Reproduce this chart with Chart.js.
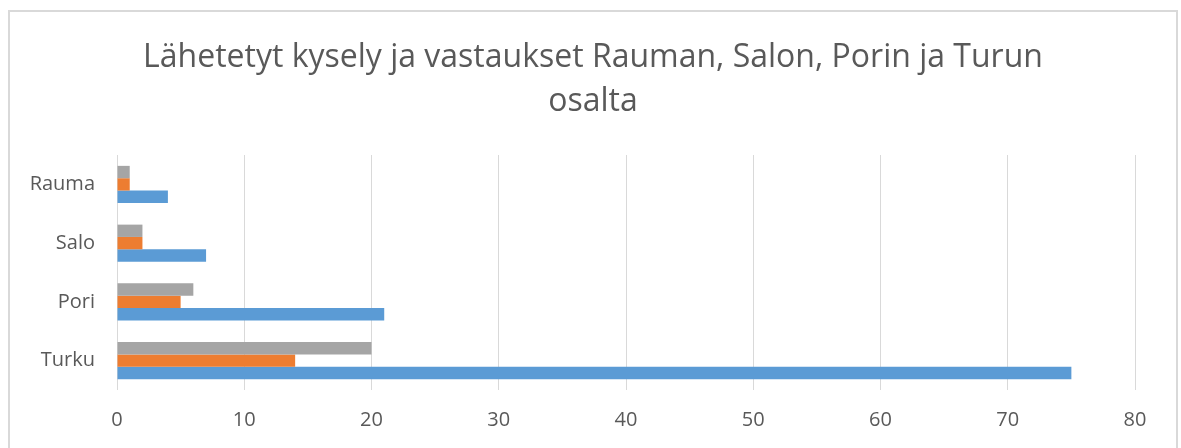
<!DOCTYPE html>
<html>
<head>
<meta charset="utf-8">
<script src="https://cdn.jsdelivr.net/npm/chart.js@4/dist/chart.umd.min.js"></script>
<style>
    body { margin: 0; background: #fff; }
    #wrap { position: relative; width: 1181px; height: 448px; overflow: hidden; }
    #frame {
        position: absolute; left: 8px; top: 10px; width: 1166px; height: 460px;
        border: 2px solid #d9d9d9; pointer-events: none;
    }
</style>
</head>
<body>
<div id="wrap">
    <canvas id="chart" width="1181" height="448"></canvas>
    <div id="frame"></div>
</div>
<script>
var cities = ['Rauma', 'Salo', 'Pori', 'Turku'];
var series1 = [4, 7, 21, 75];   // blue
var series2 = [1, 2, 5, 14];    // orange
var series3 = [1, 2, 6, 20];    // gray
var xTicks = [0, 10, 20, 30, 40, 50, 60, 70, 80];
var chartTitle = ['Lähetetyt kysely ja vastaukset Rauman, Salon, Porin ja Turun', 'osalta'];

document.addEventListener('DOMContentLoaded', function() {
    renderChart();
});

function renderChart(){
    var ctx = document.getElementById('chart').getContext('2d');
    var textColor = '#595959';
    var fontFamily = "'Open Sans', sans-serif";

    new Chart(ctx, {
        type: 'bar',
        data: {
            labels: cities,
            datasets: [
                { label: 'Sarja3', data: series3, backgroundColor: '#a5a5a5' },
                { label: 'Sarja2', data: series2, backgroundColor: '#ed7d31' },
                { label: 'Sarja1', data: series1, backgroundColor: '#5b9bd5' }
            ]
        },
        options: {
            indexAxis: 'y',
            responsive: false,
            animation: false,
            categoryPercentage: 0.63,
            barPercentage: 1,
            layout: { padding: { left: 10, right: 5, top: 0, bottom: 0 } },
            plugins: {
                legend: { display: false },
                tooltip: { enabled: false },
                title: {
                    display: true,
                    text: chartTitle,
                    color: textColor,
                    font: { family: fontFamily, size: 32, weight: 'normal', lineHeight: 1.375 },
                    padding: { top: 36, bottom: 31 }
                }
            },
            scales: {
                x: {
                    min: 0,
                    max: 80,
                    afterBuildTicks: function(scale) {
                        scale.ticks = xTicks.map(v => ({ value: v }));
                    },
                    afterFit: function(scale) { scale.height = 58; },
                    grid: { color: '#d9d9d9', lineWidth: 1, drawTicks: false },
                    border: { display: false },
                    ticks: {
                        color: textColor,
                        padding: 18,
                        font: { family: fontFamily, size: 20 }
                    }
                },
                y: {
                    grid: { display: false, drawTicks: false },
                    border: { display: false },
                    afterFit: function(scale) { scale.width = 107; },
                    ticks: {
                        color: textColor,
                        padding: 22,
                        font: { family: fontFamily, size: 20 }
                    }
                },
                // empty spacer on the right so the title centres on the frame
                spacer: {
                    type: 'linear',
                    position: 'right',
                    grid: { display: false, drawTicks: false },
                    border: { display: false },
                    ticks: { display: false },
                    afterFit: function(scale) { scale.width = 41; }
                }
            }
        }
    });
}
</script>
</body>
</html>
